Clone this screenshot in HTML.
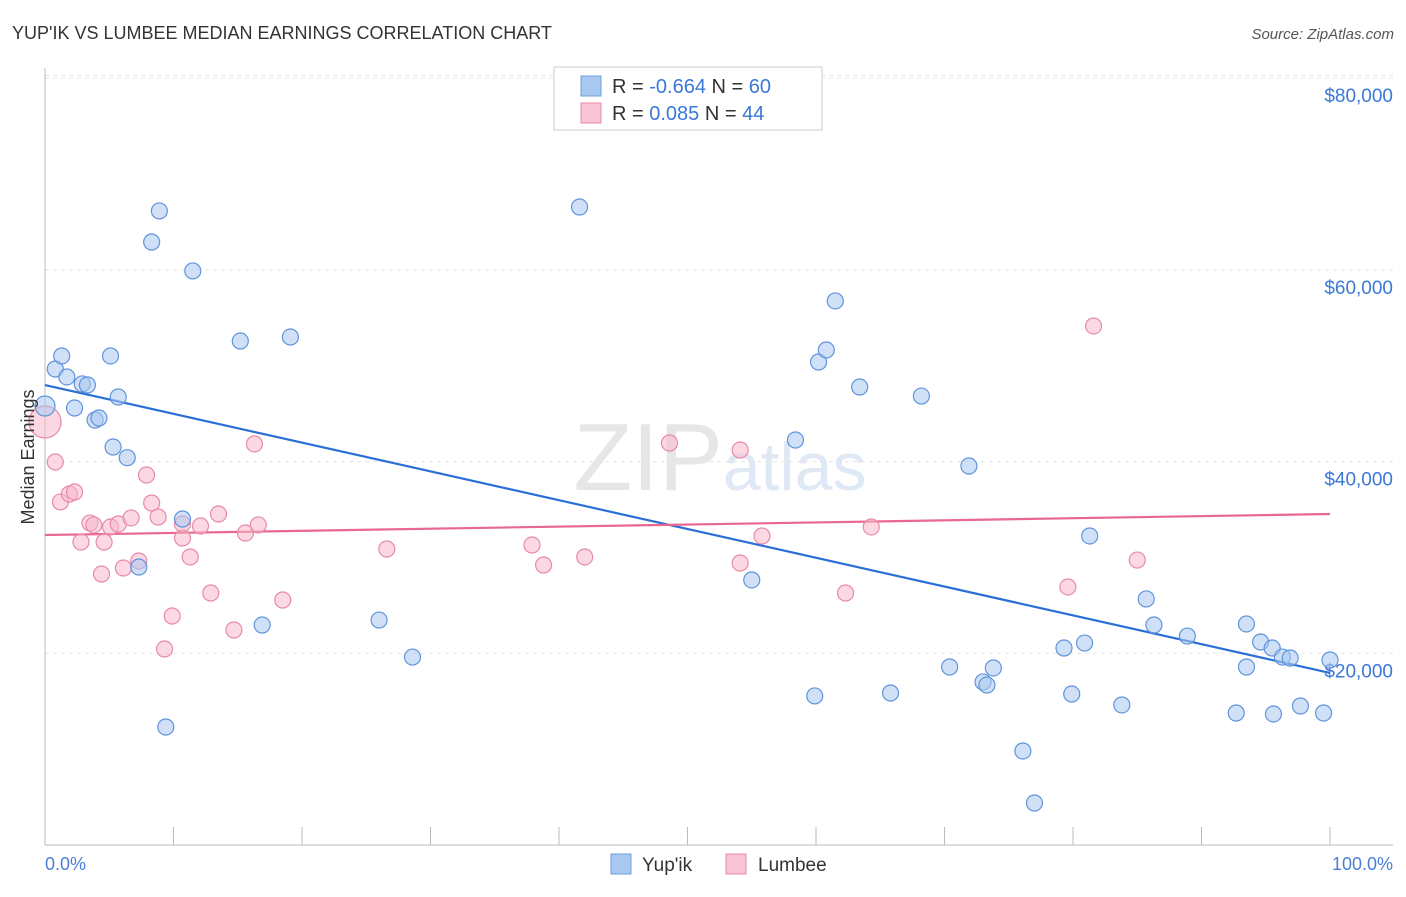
<!DOCTYPE html>
<html><head><meta charset="utf-8"><style>
body{margin:0;background:#fff;font-family:"Liberation Sans",sans-serif;}
svg text{font-family:"Liberation Sans",sans-serif;}
</style></head><body>
<svg id="chart" width="1406" height="892" viewBox="0 0 1406 892" xmlns="http://www.w3.org/2000/svg">
<text x="12" y="39" font-size="18" fill="#333">YUP'IK VS LUMBEE MEDIAN EARNINGS CORRELATION CHART</text>
<text x="1394" y="39" font-size="15" fill="#555" text-anchor="end" font-style="italic">Source: ZipAtlas.com</text>
<text x="720" y="490" font-size="96" fill="#e6e6e6" text-anchor="middle" font-family="Liberation Serif">ZIP<tspan fill="#dfe8f5" font-family="Liberation Sans" font-size="68">atlas</tspan></text>
<g id="grid"></g>
<g id="axes"></g>
<g id="trends"></g>
<g id="points"></g>
<text transform="translate(34,457) rotate(-90)" font-size="18" fill="#333" text-anchor="middle">Median Earnings</text>
<text x="45" y="870" font-size="18" fill="#4a7fd8">0.0%</text>
<text x="1393" y="870" font-size="18" fill="#4a7fd8" text-anchor="end">100.0%</text>
<g>
<rect x="554" y="67" width="268" height="63" fill="#fff" stroke="#ccc"/>
<rect x="581" y="76" width="20" height="20" fill="#a9c8f0" stroke="#6a9fe0"/>
<rect x="581" y="103" width="20" height="20" fill="#f9c4d4" stroke="#e88aa8"/>
<text x="612" y="93" font-size="20" fill="#333">R = <tspan fill="#3b78d8">-0.664</tspan>   N = <tspan fill="#3b78d8">60</tspan></text>
<text x="612" y="120" font-size="20" fill="#333">R =  <tspan fill="#3b78d8"> 0.085</tspan>   N = <tspan fill="#3b78d8">44</tspan></text>
</g>
<g>
<rect x="611" y="854" width="20" height="20" fill="#a9c8f0" stroke="#6a9fe0"/>
<text x="642" y="871" font-size="19" fill="#333">Yup'ik</text>
<rect x="726" y="854" width="20" height="20" fill="#f9c4d4" stroke="#e88aa8"/>
<text x="758" y="871" font-size="19" fill="#333">Lumbee</text>
</g>
</svg>
<script>
const yTicks=[20000,40000,60000,80000];
const yTickLabels=["$20,000","$40,000","$60,000","$80,000"];
const xTicks=[0,10,20,30,40,50,60,70,80,90,100];
const blueX=[0,0.8,1.3,1.7,2.3,2.9,3.3,3.9,4.2,5.1,5.3,5.7,6.4,7.3,8.3,8.9,9.4,10.7,11.5,15.2,16.9,19.1,26.0,28.6,41.6,55.0,58.4,59.9,60.2,60.8,61.5,63.4,65.8,68.2,70.4,71.9,73.0,73.3,73.8,76.1,77.0,79.3,79.9,80.9,81.3,83.8,85.7,86.3,88.9,92.7,93.5,93.5,94.6,95.5,95.6,96.3,96.9,97.7,99.5,100];
const blueY=[45800,49660,51020,48830,45590,48100,47990,44340,44550,51020,41520,46740,40410,29000,62910,66150,12310,34010,59890,52580,22950,53000,23470,19610,66560,27650,42250,15550,50390,51640,56760,47780,15860,46840,18570,39540,17010,16690,18470,9810,4380,20550,15750,21070,32240,14610,25670,22950,21800,13770,23060,18570,21180,20550,13670,19610,19510,14500,13770,19300];
const pinkX=[0,0.8,1.2,1.9,2.3,2.8,3.5,3.8,4.4,4.6,5.1,5.7,6.1,6.7,7.3,7.9,8.3,8.8,9.3,9.9,10.7,10.7,11.3,12.1,12.9,13.5,14.7,15.6,16.3,16.6,18.5,26.6,37.9,38.8,42.0,48.6,54.1,54.1,55.8,62.3,64.3,79.6,81.6,85.0];
const pinkY=[44130,39960,35790,36620,36830,31610,33590,33390,28270,31610,33180,33490,28900,34120,29630,38600,35680,34220,20450,23890,32030,33490,30050,33280,26290,34530,22430,32550,41840,33390,25560,30880,31300,29210,30050,41940,41210,29420,32240,26290,33180,26920,54150,29730];
const blueTrend=[47990,17950];
const pinkTrend=[32340,34530];
const NS="http://www.w3.org/2000/svg";
const X0=45,X1=1330,Y0=845,PXPER=191.7/20000;
function sx(v){return X0+(X1-X0)*v/100;}
function sy(v){return Y0-v*PXPER;}
function mk(tag,attrs,parent){const e=document.createElementNS(NS,tag);for(const k in attrs)e.setAttribute(k,attrs[k]);parent.appendChild(e);return e;}
const grid=document.getElementById('grid'),axes=document.getElementById('axes'),trends=document.getElementById('trends'),pts=document.getElementById('points');
yTicks.forEach((t,i)=>{
 const l=mk('line',{x1:45,x2:1393,y1:sy(t),y2:sy(t),stroke:'#e3e3e3','stroke-dasharray':'4,4'},grid);
 
 
 const tx=mk('text',{x:1393,y:sy(t)+24,'font-size':19,fill:'#3b78d8','text-anchor':'end'},grid);
 tx.textContent=yTickLabels[i];
 
 
});
const tl=mk('line',{x1:45,x2:1393,y1:sy(80000)-3,y2:sy(80000)-3,stroke:'#e3e3e3','stroke-dasharray':'4,4'},grid);


const ya=mk('line',{x1:45,x2:45,y1:68,y2:845,stroke:'#bbb'},axes);


const xa=mk('line',{x1:45,x2:1393,y1:845,y2:845,stroke:'#bbb'},axes);


xTicks.forEach(t=>{
 const k=mk('line',{x1:sx(t),x2:sx(t),y1:827,y2:845,stroke:'#bbb'},axes);
 
 
});
function dots(xs,ys,fill,stroke,name){
 xs.forEach((x,i)=>{
  const r=(i===0&&name==='lumbee-point')?16:(i===0?10:8);
  const c=mk('circle',{cx:sx(x),cy:sy(ys[i]),r:r,fill:fill,'fill-opacity':0.55,stroke:stroke,'stroke-width':1.2},pts);
  
  
 });
}
dots(pinkX,pinkY,'#f7b8cb','#e88aa8','lumbee-point');
dots(blueX,blueY,'#a9c8f0','#5f94dc','yupik-point');
const bt=mk('line',{x1:sx(0),y1:sy(blueTrend[0]),x2:sx(100),y2:sy(blueTrend[1]),stroke:'#2a6fd6','stroke-width':2.2},trends);


const pt=mk('line',{x1:sx(0),y1:sy(pinkTrend[0]),x2:sx(100),y2:sy(pinkTrend[1]),stroke:'#e8688f','stroke-width':2.2},trends);


</script>
</body></html>
